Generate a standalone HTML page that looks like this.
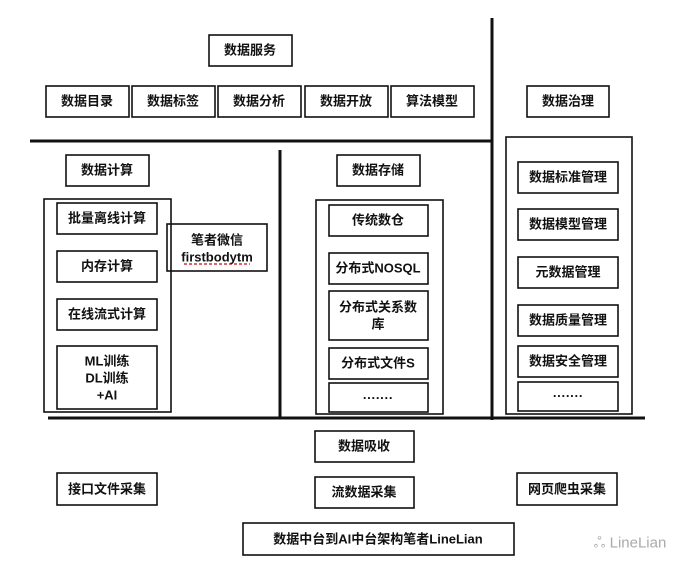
<!DOCTYPE html>
<html><head><meta charset="utf-8"><style>
body{margin:0;background:#fff}
svg text{font-family:"Liberation Sans","Noto Sans CJK SC",sans-serif;font-size:13px;font-weight:bold;fill:#111;text-anchor:middle;dominant-baseline:central}
</style></head><body>
<svg width="700" height="572" xmlns="http://www.w3.org/2000/svg">
<g fill="none" stroke="#111" stroke-width="1.6">
<rect x="209" y="35" width="83" height="31"/>
<rect x="46" y="86" width="83" height="31"/>
<rect x="132" y="86" width="83" height="31"/>
<rect x="218" y="86" width="83" height="31"/>
<rect x="305" y="86" width="83" height="31"/>
<rect x="391" y="86" width="83" height="31"/>
<rect x="527" y="86" width="82" height="31"/>
<rect x="506" y="137" width="126" height="277"/>
<rect x="518" y="162" width="100" height="31"/>
<rect x="518" y="209" width="100" height="31"/>
<rect x="518" y="257" width="100" height="31"/>
<rect x="518" y="305" width="100" height="31"/>
<rect x="518" y="346" width="100" height="31"/>
<rect x="518" y="382" width="100" height="29"/>
<rect x="66" y="155" width="83" height="31"/>
<rect x="44" y="199" width="127" height="213"/>
<rect x="57" y="203" width="100" height="31"/>
<rect x="57" y="251" width="100" height="31"/>
<rect x="57" y="299" width="100" height="31"/>
<rect x="57" y="346" width="100" height="63"/>
<rect x="167" y="224" width="100" height="47"/>
<rect x="337" y="155" width="83" height="31"/>
<rect x="316" y="200" width="127" height="214"/>
<rect x="329" y="205" width="99" height="31"/>
<rect x="329" y="253" width="99" height="31"/>
<rect x="329" y="291" width="99" height="49"/>
<rect x="329" y="348" width="99" height="31"/>
<rect x="329" y="383" width="99" height="29"/>
<rect x="315" y="431" width="99" height="31"/>
<rect x="315" y="477" width="99" height="31"/>
<rect x="243" y="523" width="271" height="32"/>
<rect x="57" y="473" width="100" height="32"/>
<rect x="517" y="473" width="100" height="32"/>
</g>
<g stroke="#111" stroke-width="3">
<line x1="30" y1="141" x2="492" y2="141"/>
<line x1="492" y1="18" x2="492" y2="420"/>
<line x1="280" y1="150" x2="280" y2="418"/>
<line x1="48" y1="418" x2="645" y2="418"/>
</g>
<line x1="184" y1="264" x2="250" y2="264" stroke="#c33" stroke-width="1.5" stroke-dasharray="3,2"/>
<text x="250" y="50">数据服务</text>
<text x="87" y="101">数据目录</text>
<text x="173" y="101">数据标签</text>
<text x="259" y="101">数据分析</text>
<text x="346" y="101">数据开放</text>
<text x="432" y="101">算法模型</text>
<text x="568" y="101">数据治理</text>
<text x="568" y="177">数据标准管理</text>
<text x="568" y="224">数据模型管理</text>
<text x="568" y="272">元数据管理</text>
<text x="568" y="320">数据质量管理</text>
<text x="568" y="361">数据安全管理</text>
<text x="568" y="396">·······</text>
<text x="107" y="170">数据计算</text>
<text x="107" y="218">批量离线计算</text>
<text x="107" y="266">内存计算</text>
<text x="107" y="314">在线流式计算</text>
<text x="107" y="361">ML训练</text>
<text x="107" y="378">DL训练</text>
<text x="107" y="395">+AI</text>
<text x="217" y="240">笔者微信</text>
<text x="217" y="257">firstbodytm</text>
<text x="378" y="170">数据存储</text>
<text x="378" y="220">传统数仓</text>
<text x="378" y="268">分布式NOSQL</text>
<text x="378" y="307">分布式关系数</text>
<text x="378" y="324">库</text>
<text x="378" y="363">分布式文件S</text>
<text x="378" y="398">·······</text>
<text x="364" y="446">数据吸收</text>
<text x="364" y="492">流数据采集</text>
<text x="378" y="539">数据中台到AI中台架构笔者LineLian</text>
<text x="107" y="489">接口文件采集</text>
<text x="567" y="489">网页爬虫采集</text>
<text x="630" y="543" style="font-weight:normal;font-size:15px;fill:#aaa">ஃ LineLian</text>
</svg>
</body></html>
